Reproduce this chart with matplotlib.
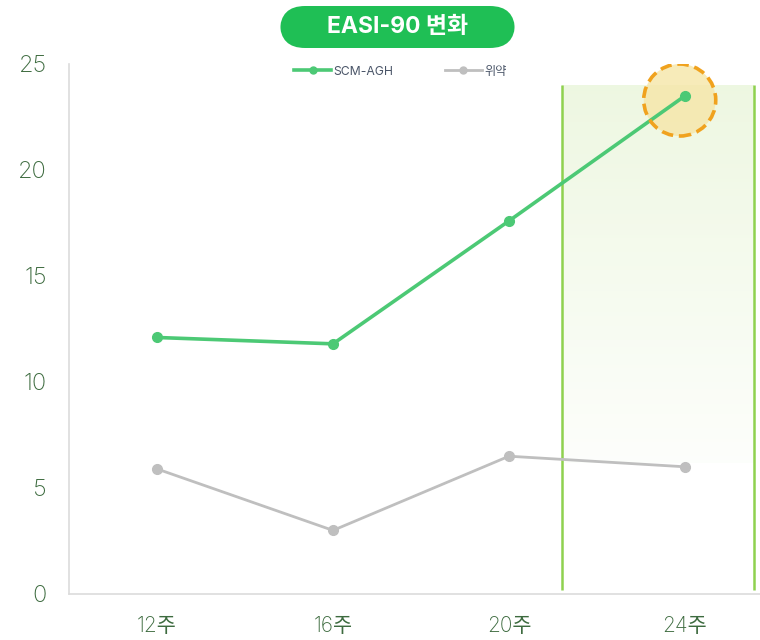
import numpy as np
import matplotlib.pyplot as plt
from matplotlib.patches import Ellipse, FancyBboxPatch
from matplotlib.lines import Line2D

plt.rcParams['font.family'] = ['Inter', 'Noto Sans CJK KR', 'DejaVu Sans']

# data
weeks = ["12주", "16주", "20주", "24주"]
scm_agh = [12.1, 11.8, 17.6, 23.5]
placebo = [5.9, 3.0, 6.5, 6.0]
y_ticks = [0, 5, 10, 15, 20, 25]

green = "#4cc975"
gray = "#bfbfbf"
tick_color = "#3d6b3f"

fig = plt.figure(figsize=(7.6, 6.4), dpi=100)
ax = fig.add_axes([69 / 760, 46 / 640, 691 / 760, 530 / 640])

x = np.arange(len(weeks))

# highlighted last interval: fading band plus two boundary lines
grad = np.linspace(1, 0, 256).reshape(-1, 1)
rgba = np.zeros((256, 1, 4))
rgba[..., 0] = 0.86
rgba[..., 1] = 0.94
rgba[..., 2] = 0.76
rgba[..., 3] = 0.06 + 0.42 * grad
ax.imshow(rgba, extent=(2.30, 3.39, 6.2, 24.0), aspect="auto", zorder=0,
          interpolation="bilinear")
ax.vlines([2.30, 3.39], 0.2, 24.0, color="#8fd14f", lw=1.8, zorder=1)

# ring fill sits under the line
ring = Ellipse((2.97, 23.3), width=72 / 176, height=72 / 21.2,
               facecolor="#f6e6a8", edgecolor="none", alpha=0.8, zorder=2)
ax.add_patch(ring)

ax.plot(x, scm_agh, color=green, lw=2.6, marker="o", ms=7, zorder=3,
        solid_capstyle="round")
ax.plot(x, placebo, color=gray, lw=2.0, marker="o", ms=7, zorder=3)

ring_edge = Ellipse((2.97, 23.3), width=72 / 176, height=72 / 21.2,
                    facecolor="none", edgecolor="#f0a21e", lw=2.6,
                    linestyle=(0, (3.2, 1.6)), zorder=5)
ax.add_patch(ring_edge)

ax.set_xlim(-0.5, 3.426)
ax.set_ylim(0, 25)
ax.set_xticks(x)
ax.set_xticklabels(weeks, fontweight="light")
ax.set_yticks(y_ticks)
ax.set_yticklabels([str(v) for v in y_ticks], fontweight="light")
ax.tick_params(axis="x", length=0, pad=16, labelsize=15, colors=tick_color)
ax.tick_params(axis="y", length=0, pad=16, labelsize=17, colors=tick_color)

for side in ["top", "right"]:
    ax.spines[side].set_visible(False)
for side in ["left", "bottom"]:
    ax.spines[side].set_color("#dcdcdc")
    ax.spines[side].set_linewidth(1.2)

# legend
handles = [
    Line2D([], [], color=green, lw=2.6, marker="o", ms=5),
    Line2D([], [], color=gray, lw=2.0, marker="o", ms=5),
]
fig.legend(handles, ["SCM-AGH", "위약"], loc="center", ncol=2,
           bbox_to_anchor=(0.527, 0.888), frameon=False, fontsize=8.8,
           handlelength=3.0, handletextpad=0.2, columnspacing=4.2,
           labelcolor="#4a5568")

# title pill
pill = FancyBboxPatch((280 / 760, 1 - 48 / 640), 235 / 760, 42 / 640,
                      boxstyle="round,pad=0,rounding_size=0.033",
                      transform=fig.transFigure, facecolor="#1fbf55",
                      edgecolor="none", mutation_aspect=760 / 640)
fig.patches.append(pill)
fig.text(397.5 / 760, 1 - 27 / 640, "EASI-90 변화", ha="center", va="center",
         color="white", fontsize=16.5, fontweight="bold")

fig.savefig("out.png", dpi=100)
